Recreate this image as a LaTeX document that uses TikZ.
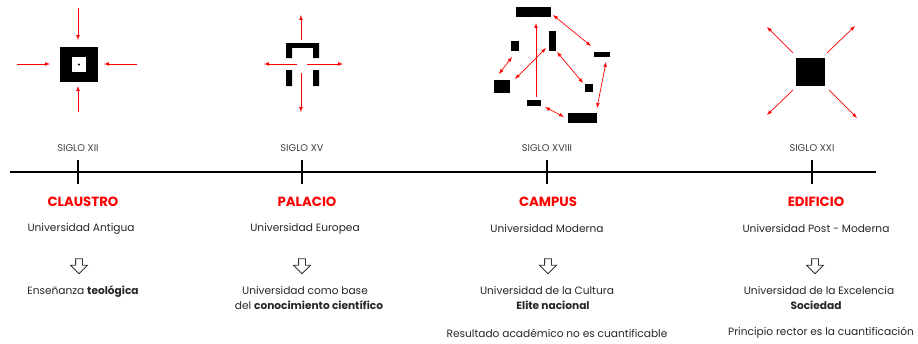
\documentclass[tikz,border=0pt]{standalone}
\usepackage{fontspec}
\setmainfont{Poppins}
\usetikzlibrary{shapes.arrows}

\tikzset{
	siglo/.style={font=\fontsize{9.8}{11}\selectfont, text=black!75},
	titulo/.style={font=\fontsize{13.3}{15}\selectfont\bfseries, text=red},
	texto/.style={font=\fontsize{10.6}{12}\selectfont, text=black!85, inner sep=1pt},
	hueca/.style={single arrow, draw=black!80, line width=0.8pt, shape border rotate=270, minimum height=15pt, inner sep=3pt, single arrow head extend=5pt},
	vector/.style={red, line width=0.7pt},
}

\begin{document}
\begin{tikzpicture}[x=1pt,y=-1pt]
			\useasboundingbox (0,0) rectangle (918,343);
			
			% linea de tiempo
			\draw[line width=1.4pt] (10,172) -- (876,172);
			\foreach \x/\s [count=\i] in {78/XII, 302/XV, 547/XVIII, 812/XXI}{
				\draw[line width=1.4pt] (\x,160) -- (\x,184);
				\node[siglo] (siglo\i) at (\x,148) {SIGLO \s};
			}
			
			% claustro
			\fill (60,47) rectangle (98,82);
			\fill[white] (72,57) rectangle (86,72);
			\fill (79,64.5) circle (1.1);
			\draw[vector,-latex] (78,8) -- (78,40);
			\draw[vector,-latex] (78,112) -- (78,86);
			\draw[vector,-latex] (17,64) -- (50,64);
			\draw[vector,-latex] (137,64) -- (104,64);
			
			% palacio
			\fill (286,43) rectangle (319,48);
			\fill (286,43) rectangle (292,58) (313,43) rectangle (319,58);
			\fill (286,70) rectangle (292,86) (313,70) rectangle (319,86);
			\draw[vector,-latex] (301,40) -- (301,15);
			\draw[vector,-latex] (301,73) -- (301,112);
			\draw[vector,-latex] (297,64) -- (264,64);
			\draw[vector,-latex] (307,64) -- (343,64);
			
			% campus
			\foreach \a/\b/\c/\d in {516/7/551/17, 549/31/556/51, 511/41/519/51, 494/80/510/93, 594/52/610/57, 585/84/593/92, 527/100/541/106, 568/113/597/123}{
				\fill (\a,\b) rectangle (\c,\d);
			}
			\draw[vector,-latex] (536,97) -- (536,23);
			\foreach \p/\q in {{553,15}/{591,46}, {512,57}/{499,74}, {546,48}/{515,79}, {557,52}/{583,83}, {606,62}/{597,108}, {545,107}/{564,117}}{
				\draw[vector,latex-latex] (\p) -- (\q);
			}
			
			% edificio
			\fill (796,58) rectangle (825,86);
			\draw[vector,-latex] (793,53) -- (767,27);
			\draw[vector,-latex] (827,53) -- (855,26);
			\draw[vector,-latex] (793,90) -- (767,115);
			\draw[vector,-latex] (829,90) -- (857,118);
			
			% titulos
			\node[titulo] (claustro) at (83,202) {CLAUSTRO};
			\node[titulo] (palacio) at (307,202) {PALACIO};
			\node[titulo] (campus) at (548,202) {CAMPUS};
			\node[titulo] (edificio) at (816,202) {EDIFICIO};
			
			\node[texto] (antigua) at (81,229) {Universidad Antigua};
			\node[texto] (europea) at (305,229) {Universidad Europea};
			\node[texto] (moderna) at (547,229) {Universidad Moderna};
			\node[texto] (postmoderna) at (816,229) {Universidad Post - Moderna};
			
			\foreach \x [count=\i] in {79, 302, 548, 815}{
				\node[hueca] (hueca\i) at (\x,264.5) {};
			}
			
			\node[texto] (teologica) at (83,292) {Enseñanza \textbf{teológica}};
			\node[texto] (base) at (305,291) {Universidad como base};
			\node[texto] (cientifico) at (309,305.5) {del \textbf{conocimiento científico}};
			\node[texto] (cultura) at (547,291) {Universidad de la Cultura};
			\node[texto] (elite) at (553,305.5) {\textbf{Elite nacional}};
			\node[texto] (resultado) at (557,333) {Resultado académico no es cuantificable};
			\node[texto] (excelencia) at (819,291) {Universidad de la Excelencia};
			\node[texto] (sociedad) at (816,305.5) {\textbf{Sociedad}};
			\node[texto] (principio) at (821,333) {Principio rector es la cuantificación};
		\end{tikzpicture}
\end{document}
